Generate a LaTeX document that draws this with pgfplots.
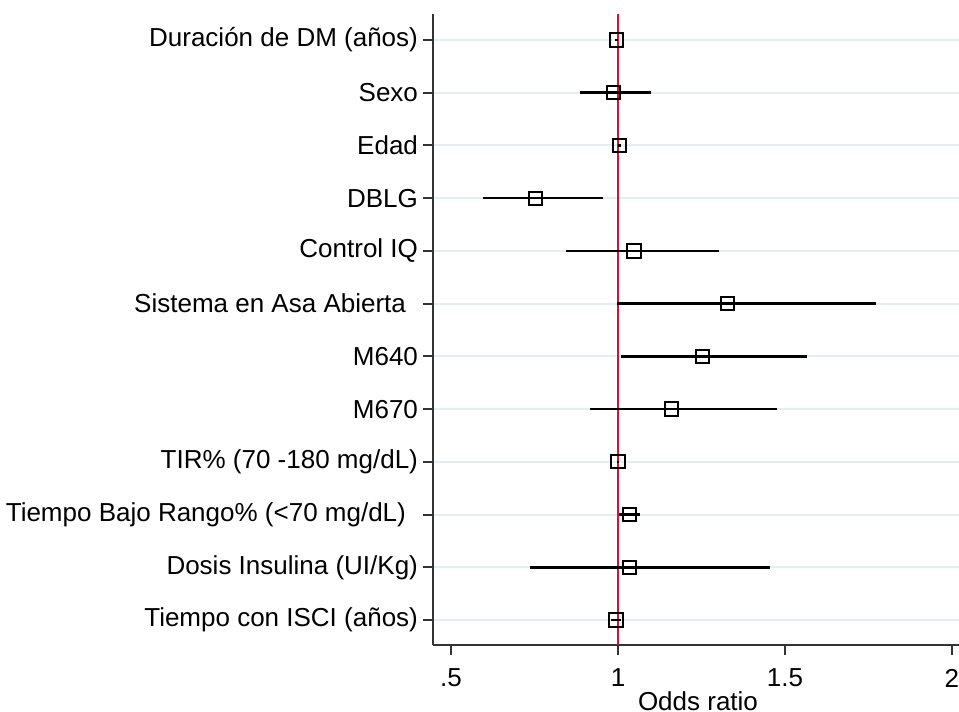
\documentclass[border=0pt]{standalone}
\usepackage{fontspec}
\setmainfont{Liberation Sans}
\usepackage{pgfplots}
\usepackage{pgfplotstable}
\pgfplotsset{compat=1.18}
\definecolor{gridc}{RGB}{228,237,240}
\definecolor{refred}{RGB}{205,20,60}

% rows: 12 = top (Duracion de DM) ... 1 = bottom (Tiempo con ISCI)
\pgfplotstableread{
y  or    lo    hi
12 0.996 0.991 1.001
11 0.986 0.886 1.100
10 1.004 0.999 1.008
9  0.754 0.595 0.955
8  1.048 0.844 1.302
7  1.329 0.997 1.772
6  1.254 1.008 1.565
5  1.161 0.915 1.476
4  1.000 0.996 1.004
3  1.034 1.003 1.066
2  1.034 0.735 1.455
1  0.994 0.980 1.008
}\ordata

\begin{document}
\begin{tikzpicture}
\begin{axis}[
    name=ax,
    scale only axis,
    width=265pt, height=315.5pt,
    xmin=0.446, xmax=2.033,
    ymin=0.526, ymax=12.493,
    axis lines=left,
    axis line style={-, line width=1pt, black!80},
    xtick={0.5,1,1.5,2},
    xticklabels={.5,1,1.5,2},
    ytick={1,...,12},
    yticklabels={{Tiempo con ISCI (años)},
                 {Dosis Insulina (UI/Kg)},
                 {Tiempo Bajo Rango\% (<70 mg/dL)\kern6pt},
                 {TIR\% (70 -180 mg/dL)},
                 {M670},
                 {M640},
                 {Sistema en Asa Abierta\kern6pt},
                 {Control IQ},
                 {DBLG},
                 {Edad},
                 {Sexo},
                 {Duración de DM (años)}},
    tick align=outside,
    major tick length=5pt,
    tick style={line width=1pt, black!80},
    ymajorgrids,
    grid style={gridc, line width=1pt},
    ticklabel style={font=\fontsize{13}{15}\selectfont},
    yticklabel style={xshift=1pt},
    xticklabel style={yshift=-3.5pt},
    xlabel={Odds ratio},
    xlabel style={font=\fontsize{13}{15}\selectfont, yshift=4.5pt},
]
\addplot[refred, line width=1pt] coordinates {(1,0.526) (1,12.493)};
\addplot[only marks, black, mark=square, mark size=3.3pt,
    mark options={black, line width=1pt, fill=none},
    error bars/.cd, x dir=both, x explicit,
    error bar style={line width=1.25pt, black}, error mark=none]
    table[x=or, y=y,
          x error minus expr=\thisrow{or}-\thisrow{lo},
          x error plus expr=\thisrow{hi}-\thisrow{or}] {\ordata};
\end{axis}
\pgfresetboundingbox
\path ([xshift=-216.5pt,yshift=-33.5pt]ax.south west) rectangle ++(479.5pt,356pt);
\end{tikzpicture}
\end{document}
